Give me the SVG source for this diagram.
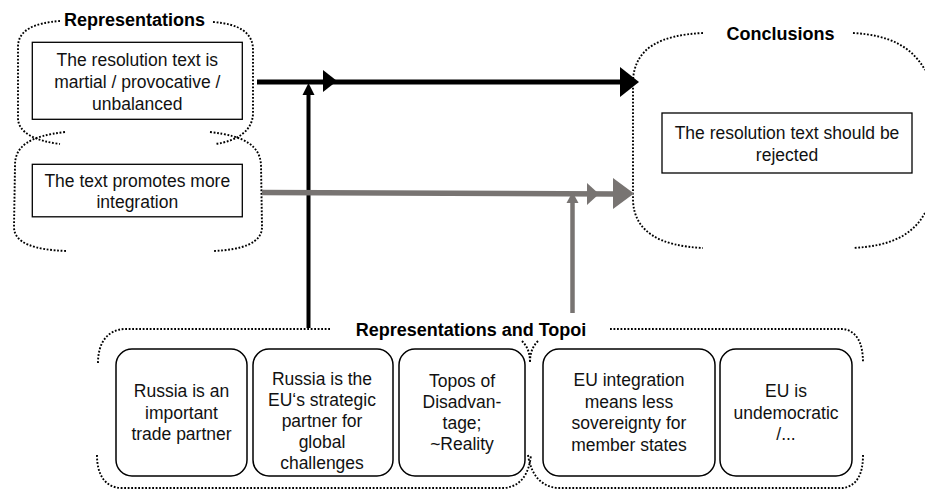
<svg xmlns="http://www.w3.org/2000/svg" width="925" height="490" viewBox="0 0 925 490">
  <style>
    .txt { font-family: "Liberation Sans", Arial, sans-serif; font-size: 17.5px; fill: #111; text-anchor: middle; }
    .title { font-family: "Liberation Sans", Arial, sans-serif; font-size: 18px; font-weight: bold; fill: #000; text-anchor: middle; }
    .box { fill: #fff; stroke: #000; stroke-width: 1.3; }
    .rbox { fill: #fff; stroke: #000; stroke-width: 1.5; }
    .dots { fill: none; stroke: #000; stroke-width: 1.9; stroke-dasharray: 1.8 1.7; }
    .blk { stroke: #000; fill: none; }
    .gry { stroke: #787472; fill: none; }
    .hb { fill: #000; }
    .hg { fill: #787472; }
  </style>

  <!-- dotted group brackets -->
  <g id="brackets">
    <!-- Representations: upper part -->
    <path class="dots" d="M60,21 C34,23 18,30 18,47 L18,118 C18,133 36,141 60,144"/>
    <path class="dots" d="M213,22 C240,24 253,33 253,50 L253,113 C253,130 238,141 215,144"/>
    <!-- Representations: lower part -->
    <path class="dots" d="M65,132 C30,136 15,146 15,165 L14,227 C14,243 34,250 67,251"/>
    <path class="dots" d="M210,132 C245,136 260,146 261,165 L262,227 C262,243 242,250 213,251"/>
    <!-- Conclusions -->
    <path class="dots" d="M703,33 C660,35 635,48 633,80 L633,200 C634,232 660,246 703,248"/>
    <path class="dots" d="M853,33 C890,35 912,47 925,70"/>
    <path class="dots" d="M925,213 C912,236 890,246 853,248"/>
    <!-- Representations and Topoi: left part -->
    <path class="dots" d="M98,363 C98,342 108,330 124,329 L330,329"/>
    <path class="dots" d="M522,341 C528,347 530,354 530,363"/>
    <path class="dots" d="M97,455 C97,476 106,488 122,488 L505,488 C521,486 529,474 531,455"/>
    <!-- Representations and Topoi: right part -->
    <path class="dots" d="M538,341 C532,347 530,354 530,363"/>
    <path class="dots" d="M610,329 L843,329 C857,331 863,343 863,363"/>
    <path class="dots" d="M528,455 C531,474 540,486 557,488 L843,488 C857,486 863,474 863,455"/>
  </g>

  <!-- group titles -->
  <g id="titles">
    <text class="title" x="134.5" y="26">Representations</text>
    <text class="title" x="780.5" y="40">Conclusions</text>
    <text class="title" x="471" y="336">Representations and Topoi</text>
  </g>

  <!-- connectors -->
  <g id="connectors">
    <!-- black path: martial text to rejection -->
    <line class="blk" x1="257" y1="82" x2="622" y2="82" stroke-width="5"/>
    <polygon class="hb" points="323,70 337,81 323,92"/>
    <polygon class="hb" points="620,67 639,82 620,97"/>
    <!-- black riser from the Russia topoi -->
    <line class="blk" x1="308.5" y1="328" x2="308.5" y2="93" stroke-width="4"/>
    <polygon class="hb" points="302.5,95 308.5,83 314.5,95"/>
    <!-- grey path: integration to rejection -->
    <line class="gry" x1="262" y1="192.5" x2="616" y2="194" stroke-width="5.5"/>
    <polygon class="hg" points="587,183 599,194 587,205"/>
    <polygon class="hg" points="613,178 634,193.5 613,209"/>
    <!-- grey riser from the sovereignty topos -->
    <line class="gry" x1="572.5" y1="313" x2="572.5" y2="201" stroke-width="4.5"/>
    <polygon class="hg" points="566.5,203 572.5,192 578.5,203"/>
  </g>

  <!-- representation nodes -->
  <g id="rep-martial">
    <rect class="box" x="32.3" y="42.3" width="210" height="77"/>
    <text class="txt" x="137.3" y="66">The resolution text is</text>
    <text class="txt" x="137.3" y="88">martial / provocative /</text>
    <text class="txt" x="137.3" y="110">unbalanced</text>
  </g>
  <g id="rep-integration">
    <rect class="box" x="32.3" y="164.3" width="210" height="52.5"/>
    <text class="txt" x="137.3" y="186.5">The text promotes more</text>
    <text class="txt" x="137.3" y="207.5">integration</text>
  </g>

  <!-- conclusion node -->
  <g id="conclusion">
    <rect class="box" x="662" y="113" width="250" height="60"/>
    <text class="txt" x="787" y="139">The resolution text should be</text>
    <text class="txt" x="787" y="161">rejected</text>
  </g>

  <!-- topoi nodes -->
  <g id="topos-trade">
    <rect class="rbox" x="116" y="349" width="131" height="127" rx="16"/>
    <text class="txt" x="181.5" y="397">Russia is an</text>
    <text class="txt" x="181.5" y="418.5">important</text>
    <text class="txt" x="181.5" y="440">trade partner</text>
  </g>
  <g id="topos-strategic">
    <rect class="rbox" x="253" y="349" width="140" height="127" rx="16"/>
    <text class="txt" x="322" y="385">Russia is the</text>
    <text class="txt" x="322" y="406">EU‘s strategic</text>
    <text class="txt" x="322" y="427">partner for</text>
    <text class="txt" x="322" y="448">global</text>
    <text class="txt" x="322" y="469">challenges</text>
  </g>
  <g id="topos-disadvantage">
    <rect class="rbox" x="399" y="349" width="126" height="127" rx="16"/>
    <text class="txt" x="462" y="386.5">Topos of</text>
    <text class="txt" x="462" y="407.5">Disadvan-</text>
    <text class="txt" x="462" y="428.5">tage;</text>
    <text class="txt" x="462" y="449.5">~Reality</text>
  </g>
  <g id="topos-sovereignty">
    <rect class="rbox" x="543" y="349" width="172" height="127" rx="16"/>
    <text class="txt" x="629" y="386">EU integration</text>
    <text class="txt" x="629" y="407.5">means less</text>
    <text class="txt" x="629" y="429">sovereignty for</text>
    <text class="txt" x="629" y="450.5">member states</text>
  </g>
  <g id="topos-undemocratic">
    <rect class="rbox" x="720" y="349" width="132" height="127" rx="16"/>
    <text class="txt" x="786" y="397">EU is</text>
    <text class="txt" x="786" y="419">undemocratic</text>
    <text class="txt" x="786" y="440">/...</text>
  </g>
</svg>
